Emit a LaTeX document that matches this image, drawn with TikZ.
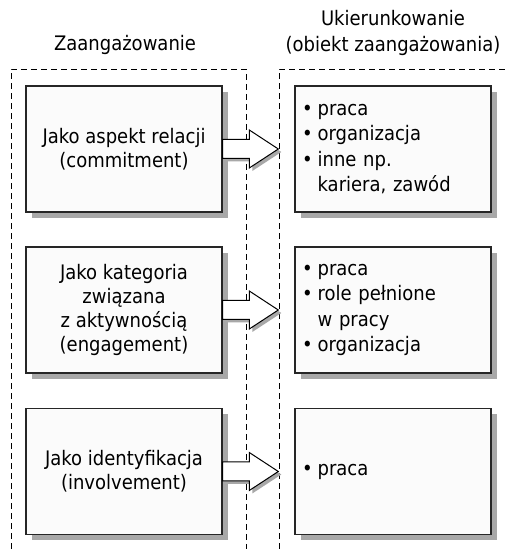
\documentclass[tikz,border=0pt]{standalone}
\usepackage{fontspec}
\setmainfont{DejaVu Sans}[FakeStretch=0.9]
\usetikzlibrary{shadows}
\newcommand{\pt}{\textbullet\hspace{5pt}}
\newcommand{\ind}{\phantom{\textbullet}\hspace{5pt}}

\begin{document}
\begin{tikzpicture}[x=1pt,y=1pt,
  font=\fontsize{20}{24}\selectfont,
  frame/.style={draw=black, dash pattern=on 6pt off 4pt, line width=0.9pt},
  panel/.style={draw=black!85, line width=1.4pt, fill=black!1.5,
    minimum width=196pt, minimum height=126pt, inner sep=0pt,
    drop shadow={shadow xshift=6pt, shadow yshift=-6pt, fill=black!34, opacity=1}},
  leftpanel/.style={panel, align=center},
  rightpanel/.style={panel, align=left, text width=182pt,
    font=\fontsize{20}{25.5}\selectfont},
  flow/.style={draw=black, line width=1pt, fill=white, line join=miter,
    drop shadow={shadow xshift=3pt, shadow yshift=-3pt, fill=black!34, opacity=1}},
  heading/.style={align=center, font=\fontsize{20}{26}\selectfont}
]
% canvas
\fill[white] (0,0) rectangle (506,549);
\useasboundingbox (0,0) rectangle (506,549);

% column frames
\draw[frame] (11,0) -- (11,480) -- (246,480) -- (246,0);
\draw[frame] (279,0) -- (279,480) -- (506,480);

% headings
\node[heading] (hl) at (125,504) {Zaangażowanie};
\node[heading] (hr) at (393,516) {Ukierunkowanie\\(obiekt zaangażowania)};

% left column
\node[leftpanel] (L1) at (124,400) {Jako aspekt relacji\\(commitment)};
\node[leftpanel] (L2) at (124,239) {Jako kategoria\\związana\\z aktywnością\\(engagement)};
\node[leftpanel] (L3) at (124,77.5) {Jako identyfikacja\\(involvement)};

% right column
\node[rightpanel] (R1) at (393,400) {\pt praca\\\pt organizacja\\\pt inne np.\\\ind kariera, zawód};
\node[rightpanel] (R2) at (393,239) {\pt praca\\\pt role pełnione\\\ind w pracy\\\pt organizacja};
\node[rightpanel] (R3) at (393,77.5) {\pt praca};

% block arrows between the columns
\foreach \i in {1,2,3}{
  \coordinate (t\i) at ([xshift=-16pt]R\i.west);
  \draw[flow] ([yshift=9.5pt]L\i.east)
    -- ([xshift=-29pt,yshift=9.5pt]t\i)
    -- ([xshift=-29pt,yshift=19pt]t\i)
    -- (t\i)
    -- ([xshift=-29pt,yshift=-19pt]t\i)
    -- ([xshift=-29pt,yshift=-9.5pt]t\i)
    -- ([yshift=-9.5pt]L\i.east) -- cycle;
}
\end{tikzpicture}
\end{document}
